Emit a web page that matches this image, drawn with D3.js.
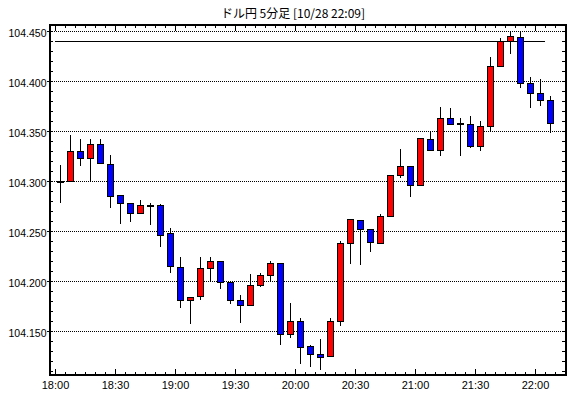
<!DOCTYPE html>
<html>
<head>
<meta charset="utf-8">
<script src="https://cdn.jsdelivr.net/npm/d3@7"></script>
<style>
  body { margin: 0; background: #fff; }
  svg { display: block; }
  .axis text { font-family: "Liberation Sans", Arial, sans-serif; fill: #000; }
  .axis path.domain { display: none; }
  .axis line { stroke: #000; shape-rendering: crispEdges; }
</style>
</head>
<body>
<div id="chart"></div>
<script>
// 5-minute bars, USD/JPY
var times = ["18:00","18:05","18:10","18:15","18:20","18:25","18:30","18:35","18:40","18:45",
             "18:50","18:55","19:00","19:05","19:10","19:15","19:20","19:25","19:30","19:35",
             "19:40","19:45","19:50","19:55","20:00","20:05","20:10","20:15","20:20","20:25",
             "20:30","20:35","20:40","20:45","20:50","20:55","21:00","21:05","21:10","21:15",
             "21:20","21:25","21:30","21:35","21:40","21:45","21:50","21:55","22:00","22:05"];
var opens  = [104.300,104.300,104.330,104.323,104.337,104.317,104.286,104.278,104.268,104.276,
              104.276,104.248,104.214,104.181,104.185,104.213,104.220,104.199,104.181,104.176,
              104.196,104.206,104.218,104.147,104.160,104.135,104.127,104.125,104.160,104.238,
              104.261,104.252,104.238,104.265,104.306,104.315,104.296,104.342,104.331,104.363,
              104.358,104.357,104.335,104.355,104.415,104.440,104.444,104.398,104.388,104.381];
var highs  = [104.317,104.347,104.343,104.343,104.343,104.327,104.287,104.279,104.282,104.279,
              104.278,104.254,104.225,104.185,104.225,104.225,104.220,104.200,104.187,104.208,
              104.209,104.221,104.219,104.179,104.164,104.137,104.143,104.164,104.241,104.263,
              104.262,104.252,104.268,104.307,104.333,104.315,104.344,104.351,104.375,104.374,
              104.364,104.366,104.361,104.425,104.444,104.450,104.450,104.405,104.403,104.386];
var lows   = [104.279,104.300,104.316,104.300,104.318,104.274,104.258,104.260,104.268,104.257,
              104.235,104.209,104.174,104.158,104.182,104.200,104.193,104.178,104.159,104.176,
              104.195,104.200,104.137,104.144,104.118,104.115,104.112,104.125,104.156,104.218,
              104.217,104.230,104.238,104.265,104.304,104.285,104.296,104.331,104.326,104.357,
              104.326,104.334,104.331,104.351,104.415,104.428,104.394,104.374,104.376,104.349];
var closes = [104.300,104.330,104.323,104.337,104.318,104.285,104.278,104.268,104.276,104.276,
              104.246,104.215,104.181,104.184,104.213,104.220,104.199,104.181,104.176,104.196,
              104.206,104.218,104.147,104.160,104.134,104.127,104.124,104.160,104.238,104.262,
              104.252,104.239,104.265,104.306,104.315,104.296,104.343,104.331,104.363,104.357,
              104.357,104.335,104.355,104.415,104.440,104.445,104.398,104.388,104.381,104.358];

var yTicks = [104.150, 104.200, 104.250, 104.300, 104.350, 104.400, 104.450];
var refLevel = 104.4405;
var title = "ドル円 5分足 [10/28 22:09]";

var parseTime = d3.timeParse("%Y-%m-%d %H:%M");
var day = "2020-10-28 ";

var data = times.map(function (t, i) {
    return { date: parseTime(day + t), open: opens[i], high: highs[i], low: lows[i], close: closes[i] };
});

var width = 570, height = 398;
var plot = { left: 49.5, top: 24.5, right: 565.5, bottom: 374.5 };

var x = d3.scaleTime()
    .domain([d3.timeSecond.offset(parseTime(day + "18:00"), -150), parseTime(day + "22:15")])
    .range([50, 565]);
var y = d3.scaleLinear()
    .domain([104.107, 104.456])
    .range([374, 25]);

function py(v) { return Math.round(y(v)) + 0.5; }
function cx(d) { return Math.round(x(d.date)) + 5; }

var svg = d3.select("#chart").append("svg")
    .attr("width", width)
    .attr("height", height);

// Title
svg.append("text")
    .attr("x", 293)
    .attr("y", 18)
    .attr("text-anchor", "middle")
    .style("font-family", "'Noto Sans CJK JP', sans-serif")
    .style("font-size", "12px")
    .text(title);

// Dotted grid lines
svg.append("g").selectAll("line")
    .data(yTicks)
    .enter().append("line")
    .attr("x1", plot.left)
    .attr("x2", plot.right)
    .attr("y1", function (d) { return py(d); })
    .attr("y2", function (d) { return py(d); })
    .attr("stroke", "#000")
    .attr("stroke-dasharray", "1,1")
    .attr("shape-rendering", "crispEdges");

// Reference line
svg.append("line")
    .attr("x1", x(parseTime(day + "18:00")))
    .attr("x2", x(parseTime(day + "22:05")))
    .attr("y1", py(refLevel))
    .attr("y2", py(refLevel))
    .attr("stroke", "#000")
    .attr("shape-rendering", "crispEdges");

// Wicks
svg.append("g").selectAll("line")
    .data(data)
    .enter().append("line")
    .attr("x1", function (d) { return cx(d) + 0.5; })
    .attr("x2", function (d) { return cx(d) + 0.5; })
    .attr("y1", function (d) { return py(d.high); })
    .attr("y2", function (d) { return py(d.low); })
    .attr("stroke", "#000")
    .attr("shape-rendering", "crispEdges");

// Bodies
svg.append("g").selectAll("rect")
    .data(data)
    .enter().append("rect")
    .attr("x", function (d) { return cx(d) - 2.5; })
    .attr("width", 6)
    .attr("y", function (d) { return py(Math.max(d.open, d.close)); })
    .attr("height", function (d) { return Math.max(py(Math.min(d.open, d.close)) - py(Math.max(d.open, d.close)), 1); })
    .attr("fill", function (d) { return d.close >= d.open ? "#ff0000" : "#0000ff"; })
    .attr("stroke", "#000")
    .attr("shape-rendering", "crispEdges");

// Axes
var every5 = d3.timeMinute.every(5), every30 = d3.timeMinute.every(30);

svg.append("g").attr("class", "axis")
    .attr("transform", "translate(0," + plot.top + ")")
    .call(d3.axisTop(x).ticks(every5).tickSize(-3).tickFormat(""));
svg.append("g").attr("class", "axis")
    .attr("transform", "translate(0," + plot.top + ")")
    .call(d3.axisTop(x).ticks(every30).tickSize(-6).tickFormat(""));

svg.append("g").attr("class", "axis")
    .attr("transform", "translate(0," + plot.bottom + ")")
    .call(d3.axisBottom(x).ticks(every5).tickSize(-3).tickFormat(""));
svg.append("g").attr("class", "axis")
    .attr("transform", "translate(0," + plot.bottom + ")")
    .call(d3.axisBottom(x).ticks(every30).tickSize(-6).tickPadding(7).tickFormat(d3.timeFormat("%H:%M")))
    .selectAll("text").style("font-size", "11px");

var minorY = d3.range(104.11, 104.456, 0.01);
svg.append("g").attr("class", "axis")
    .attr("transform", "translate(" + plot.left + ",0)")
    .call(d3.axisLeft(y).tickValues(minorY).tickSize(-3).tickFormat(""));
svg.append("g").attr("class", "axis")
    .attr("transform", "translate(" + plot.left + ",0)")
    .call(d3.axisLeft(y).tickValues(yTicks).tickSize(3).tickPadding(0).tickFormat(d3.format(".3f")))
    .selectAll("text").style("font-size", "10.5px").attr("dy", "0.55em");
svg.append("g").attr("class", "axis")
    .attr("transform", "translate(" + plot.right + ",0)")
    .call(d3.axisRight(y).tickValues(minorY).tickSize(-4).tickFormat(""));

// Frame (2px)
svg.append("rect")
    .attr("x", 50)
    .attr("y", 25)
    .attr("width", 516)
    .attr("height", 350)
    .attr("fill", "none")
    .attr("stroke", "#000")
    .attr("stroke-width", 2)
    .attr("shape-rendering", "crispEdges");
</script>
</body>
</html>
